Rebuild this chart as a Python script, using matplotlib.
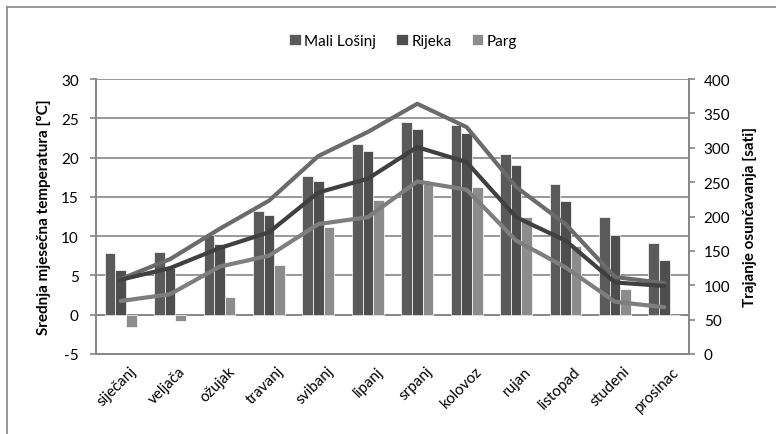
import numpy as np
import matplotlib.pyplot as plt
from matplotlib.transforms import ScaledTranslation

# ==========================================
# Data
# ==========================================
months = ['siječanj', 'veljača', 'ožujak', 'travanj', 'svibanj', 'lipanj',
          'srpanj', 'kolovoz', 'rujan', 'listopad', 'studeni', 'prosinac']

# srednja mjesečna temperatura [°C]
temp_losinj = [7.8, 8.0, 10.1, 13.2, 17.6, 21.7, 24.5, 24.2, 20.5, 16.6, 12.4, 9.1]
temp_rijeka = [5.7, 5.9, 9.0, 12.7, 17.0, 20.8, 23.6, 23.1, 19.1, 14.5, 10.2, 7.0]
temp_parg = [-1.6, -0.85, 2.25, 6.35, 11.1, 14.6, 16.6, 16.3, 12.4, 8.7, 3.3, 0.0]

# trajanje osunčavanja [sati]
sun_losinj = [109, 138, 182, 223, 288, 323, 364, 330, 243, 189, 112, 103]
sun_rijeka = [108, 125, 154, 177, 235, 255, 301, 279, 199, 165, 104, 99]
sun_parg = [77, 87, 127, 143, 189, 199, 251, 239, 165, 126, 76, 68]

# ==========================================
# Plot
# ==========================================
plt.rcParams['font.family'] = ['Lato', 'DejaVu Sans']
plt.rcParams['axes.unicode_minus'] = False
grey = '#868686'
fs = 11

fig = plt.figure(figsize=(7.76, 4.35), dpi=100)
ax = fig.add_axes([0.1237, 0.184, 0.7643, 0.632])
ax2 = ax.twinx()

x = np.arange(len(months))
w = 0.215
ax.bar(x - w, temp_losinj, w, color='#5a5a5a', edgecolor='white', linewidth=0.5, label='Mali Lošinj')
ax.bar(x, temp_rijeka, w, color='#4e4e4e', edgecolor='white', linewidth=0.5, label='Rijeka')
ax.bar(x + w, temp_parg, w, color='#8c8c8c', edgecolor='white', linewidth=0.5, label='Parg')

ax2.plot(x, sun_losinj, color='#6b6b6b', linewidth=3, solid_capstyle='round')
ax2.plot(x, sun_rijeka, color='#404040', linewidth=3, solid_capstyle='round')
ax2.plot(x, sun_parg, color='#7e7e7e', linewidth=3, solid_capstyle='round')

ax.set_xlim(-0.5, 11.5)
ax.set_ylim(-5, 30)
ax.set_yticks(range(-5, 31, 5))
ax2.set_ylim(0, 400)
ax2.set_yticks(range(0, 401, 50))

ax.set_axisbelow(True)
ax.yaxis.grid(True, color=grey, linewidth=1.2)
ax.axhline(0, color=grey, linewidth=1.2, zorder=0.5)

for a in (ax, ax2):
    for s in a.spines.values():
        s.set_color(grey)
        s.set_linewidth(1.2)
    a.spines['top'].set_visible(False)
    a.tick_params(axis='y', colors=grey, labelcolor='black', length=4.5, width=1.2,
                  labelsize=fs)
ax.tick_params(axis='y', pad=8)
ax2.tick_params(axis='y', pad=6)

ax.set_xticks(x)
ax.set_xticklabels(months, rotation=45, ha='right', rotation_mode='anchor', fontsize=fs)
ax.tick_params(axis='x', length=0, pad=7)
shift = ScaledTranslation(8 / 100, 0, fig.dpi_scale_trans)
for lbl in ax.get_xticklabels():
    lbl.set_transform(lbl.get_transform() + shift)

ax.set_ylabel('Srednja mjesečna temperatura [°C]', fontsize=fs, fontweight='bold')
ax2.set_ylabel('Trajanje osunčavanja [sati]', fontsize=fs, fontweight='bold')
ax.yaxis.set_label_coords(-0.076, 0.5)
ax2.yaxis.set_label_coords(1.091, 0.5)

ax.legend(loc='center', bbox_to_anchor=(0.518, 1.14), ncol=3, frameon=False,
          fontsize=fs, handlelength=0.75, handleheight=0.75, handletextpad=0.25,
          columnspacing=1.3)

# okvir grafikona
fig.add_artist(plt.Line2D([7 / 776, 7 / 776], [0, 1 - 8 / 435], color=grey, linewidth=1.2))
fig.add_artist(plt.Line2D([7 / 776, 1], [1 - 8 / 435, 1 - 8 / 435], color=grey, linewidth=1.2))

plt.savefig('out.png', dpi=100)
